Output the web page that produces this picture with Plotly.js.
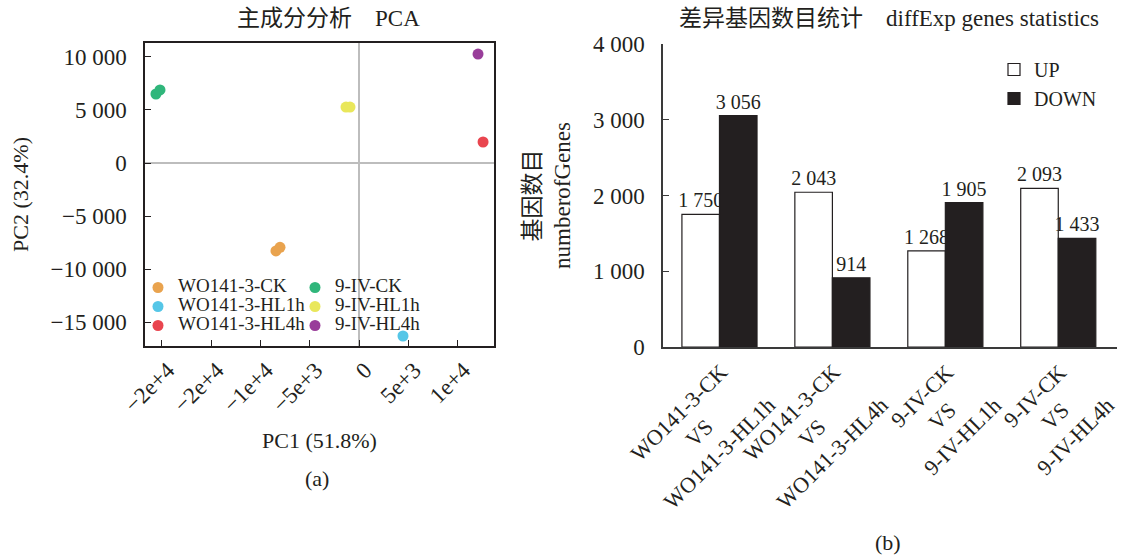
<!DOCTYPE html>
<html>
<head>
<meta charset="utf-8">
<script src="https://cdn.plot.ly/plotly-3.0.1.min.js"></script>
<style>html,body{margin:0;padding:0;background:#fff;}#chart{width:1128px;height:560px;}</style>
</head>
<body>
<div id="chart"></div>
<script>
// ---------- PCA data (panel a) ----------
const pcaGroups = ['WO141-3-CK', 'WO141-3-HL1h', 'WO141-3-HL4h', '9-IV-CK', '9-IV-HL1h', '9-IV-HL4h'];
const pc1ByGroup = [[-8420, -8010], [4460], [12580], [-20590, -20180], [-1320, -910], [12070]];
const pc2ByGroup = [[-8300, -7960], [-16320], [1980], [6510, 6890], [5280, 5280], [10280]];
const pcaTickVals = [-20000, -15000, -10000, -5000, 0, 5000, 10000];
const pcaTickText = ['\u22122e+4', '\u22122e+4', '\u22121e+4', '\u22125e+3', '0', '5e+3', '1e+4'];

// ---------- Differential expression data (panel b) ----------
const controlGroups = ['WO141-3-CK', 'WO141-3-CK', '9-IV-CK', '9-IV-CK'];
const treatGroups = ['WO141-3-HL1h', 'WO141-3-HL4h', '9-IV-HL1h', '9-IV-HL4h'];
const upCounts = [1750, 2043, 1268, 2093];
const downCounts = [3056, 914, 1905, 1433];

// ---------- styles ----------
const pcaColors = ['#E9A34E', '#55C6E7', '#E9454F', '#30B67B', '#E9E75B', '#993D9A'];
const FONT = 'Liberation Serif, "Noto Sans CJK SC", serif';
const W = 1128, H = 560;
const px = v => v / W;
const py = v => 1 - v / H;

const comparisons = controlGroups.map((c, i) => c + ' VS ' + treatGroups[i]);
const compLabels = controlGroups.map((c, i) => c + '<br>VS<br>' + treatGroups[i]);

const traces = [];
pcaGroups.forEach((g, i) => {
  traces.push({
    type: 'scatter', mode: 'markers',
    x: pc1ByGroup[i], y: pc2ByGroup[i],
    xaxis: 'x', yaxis: 'y',
    name: '<span style="font-size:19px">' + g + '</span>',
    legend: g.startsWith('WO') ? 'legend' : 'legend2',
    marker: {color: pcaColors[i], size: 11, line: {width: 0}},
    hoverinfo: 'x+y+name'
  });
});

traces.push({
  type: 'bar', name: 'UP', x: comparisons, y: upCounts,
  xaxis: 'x2', yaxis: 'y2', legend: 'legend3',
  marker: {color: '#ffffff', line: {color: '#231f20', width: 1.2}},
  texttemplate: '%{y:,}', textposition: 'outside', constraintext: 'none', cliponaxis: false,
  textfont: {family: FONT, size: 20, color: '#231f20'}
});
traces.push({
  type: 'bar', name: 'DOWN', x: comparisons, y: downCounts,
  xaxis: 'x2', yaxis: 'y2', legend: 'legend3',
  marker: {color: '#231f20', line: {color: '#231f20', width: 1.2}},
  texttemplate: '%{y:,}', textposition: 'outside', constraintext: 'none', cliponaxis: false,
  textfont: {family: FONT, size: 20, color: '#231f20'}
});

const annotations = [
  {text: '主成分分析　PCA', x: px(328), y: py(19), xref: 'paper', yref: 'paper', showarrow: false,
   font: {family: FONT, size: 23, color: '#231f20'}, xanchor: 'center', yanchor: 'middle'},
  {text: '差异基因数目统计　diffExp genes statistics', x: px(889), y: py(19), xref: 'paper', yref: 'paper', showarrow: false,
   font: {family: FONT, size: 23, color: '#231f20'}, xanchor: 'center', yanchor: 'middle'},
  {text: '(a)', x: px(317), y: py(478), xref: 'paper', yref: 'paper', showarrow: false,
   font: {family: FONT, size: 22, color: '#231f20'}, xanchor: 'center', yanchor: 'middle'},
  {text: '(b)', x: px(888), y: py(542), xref: 'paper', yref: 'paper', showarrow: false,
   font: {family: FONT, size: 22, color: '#231f20'}, xanchor: 'center', yanchor: 'middle'}
];
comparisons.forEach((c, i) => {
  annotations.push({
    text: compLabels[i], x: c, xref: 'x2', y: py(351), yref: 'paper',
    showarrow: false, textangle: -45, align: 'center', borderpad: 0,
    xanchor: 'right', yanchor: 'top', xshift: 62,
    font: {family: FONT, size: 22, color: '#231f20'}
  });
});

const layout = {
  width: W, height: H,
  margin: {l: 0, r: 0, t: 0, b: 0},
  paper_bgcolor: '#ffffff', plot_bgcolor: '#ffffff',
  font: {family: FONT, size: 22, color: '#231f20'},
  separators: '. ',
  showlegend: true,
  barmode: 'group', bargap: 0.335, bargroupgap: 0,
  xaxis: {
    domain: [px(145), px(494)], range: [-21700, 13690],
    tickmode: 'array', tickvals: pcaTickVals, ticktext: pcaTickText, tickangle: -45,
    ticks: 'inside', ticklen: 6, tickcolor: '#231f20', tickwidth: 1.2, ticklabelshift: 6,
    showline: true, mirror: true, linecolor: '#231f20', linewidth: 1.5,
    showgrid: false, zeroline: true, zerolinecolor: '#bdbdbd', zerolinewidth: 1.5,
    tickfont: {family: FONT, size: 23, color: '#231f20'},
    title: {text: 'PC1 (51.8%)', font: {family: FONT, size: 22, color: '#231f20'}, standoff: 16}
  },
  yaxis: {
    domain: [py(346), py(43)], range: [-17264, 11320], dtick: 5000, tick0: 0,
    separatethousands: true, exponentformat: 'none',
    ticks: 'inside', ticklen: 6, tickcolor: '#231f20', tickwidth: 1.2, ticklabelstandoff: 12,
    showline: true, mirror: true, linecolor: '#231f20', linewidth: 1.5,
    showgrid: false, zeroline: true, zerolinecolor: '#bdbdbd', zerolinewidth: 1.5,
    tickfont: {family: FONT, size: 23, color: '#231f20'},
    title: {text: 'PC2 (32.4%)', font: {family: FONT, size: 22, color: '#231f20'}, standoff: 16}
  },
  xaxis2: {
    domain: [px(663), px(1117)], range: [-0.5, 3.52], type: 'category', anchor: 'y2',
    showline: true, linecolor: '#3a3a3a', linewidth: 1.5,
    ticks: '', showticklabels: false, showgrid: false, zeroline: false
  },
  yaxis2: {
    domain: [py(347), py(44)], range: [0, 4000], dtick: 1000, anchor: 'x2',
    separatethousands: true,
    ticks: 'inside', ticklen: 6, tickcolor: '#3a3a3a', tickwidth: 1.2, ticklabelstandoff: 12,
    showline: true, linecolor: '#3a3a3a', linewidth: 1.5,
    showgrid: false, zeroline: false,
    tickfont: {family: FONT, size: 23, color: '#231f20'},
    title: {text: '基因数目<br>numberofGenes', font: {family: FONT, size: 23, color: '#231f20'}, standoff: 16}
  },
  legend: {
    x: px(138), y: py(273), xanchor: 'left', yanchor: 'top', orientation: 'v',
    bgcolor: 'rgba(0,0,0,0)', borderwidth: 0, font: {family: FONT, size: 12, color: '#231f20'},
    tracegroupgap: 0
  },
  legend2: {
    x: px(295), y: py(273), xanchor: 'left', yanchor: 'top', orientation: 'v',
    bgcolor: 'rgba(0,0,0,0)', borderwidth: 0, font: {family: FONT, size: 12, color: '#231f20'},
    tracegroupgap: 0
  },
  legend3: {
    x: px(994), y: py(50), xanchor: 'left', yanchor: 'top', orientation: 'v',
    bgcolor: 'rgba(0,0,0,0)', borderwidth: 0, font: {family: FONT, size: 20, color: '#231f20'},
    tracegroupgap: 0, traceorder: 'normal'
  },
  annotations: annotations
};

Plotly.newPlot('chart', traces, layout, {displayModeBar: false});
</script>
</body>
</html>
